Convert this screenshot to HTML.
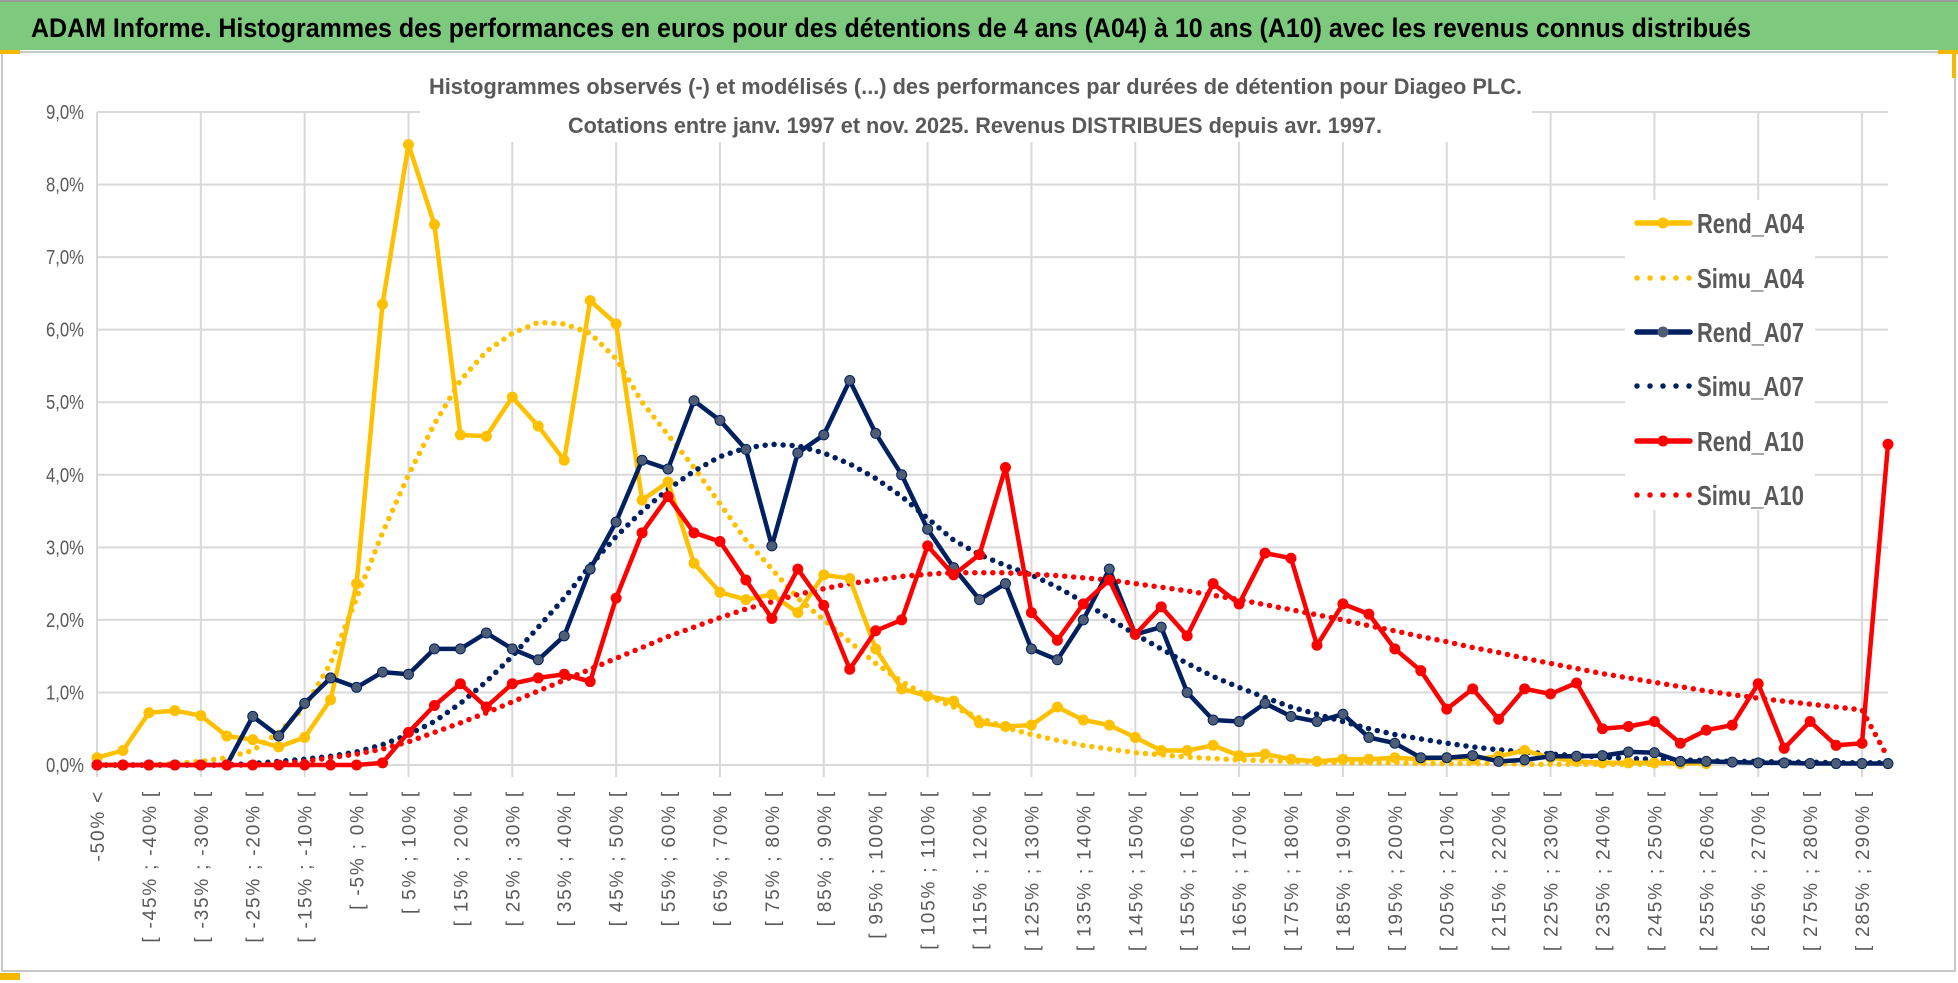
<!DOCTYPE html>
<html><head><meta charset="utf-8"><style>
html,body{margin:0;padding:0;background:#fff;}
svg{display:block;font-family:"Liberation Sans Narrow","Liberation Sans",sans-serif;}
</style></head><body>
<svg id="chart" width="1958" height="983" viewBox="0 0 1958 983" xmlns="http://www.w3.org/2000/svg">
<rect x="0" y="0" width="1958" height="983" fill="#fff"/>
<rect x="0" y="1" width="1958" height="49" fill="#7dc97d"/>
<rect x="0" y="0" width="1958" height="2" fill="#999"/>
<text x="31" y="37" font-size="27" font-weight="bold" fill="#000" textLength="1720" lengthAdjust="spacingAndGlyphs">ADAM Informe. Histogrammes des performances en euros pour des détentions de 4 ans (A04) à 10 ans (A10) avec les revenus connus distribués</text>
<rect x="2" y="52" width="1953" height="919" fill="none" stroke="#c8c8c8" stroke-width="2"/>
<rect x="0" y="50" width="20" height="4" fill="#f5b800"/>
<rect x="1938" y="50" width="20" height="4" fill="#f5b800"/>
<rect x="1952" y="50" width="4" height="28" fill="#f5b800"/>
<rect x="0" y="973" width="20" height="7" fill="#f5b800"/>
<g id="grid"></g>
<rect x="420" y="70" width="1112" height="72" fill="#fff"/>
<text x="429" y="94" font-size="22" font-weight="bold" fill="#595959" textLength="1093" lengthAdjust="spacingAndGlyphs">Histogrammes observés (-) et modélisés (...) des performances par durées de détention pour Diageo PLC.</text>
<text x="568" y="133" font-size="22" font-weight="bold" fill="#595959" textLength="814" lengthAdjust="spacingAndGlyphs">Cotations entre janv. 1997 et nov. 2025. Revenus DISTRIBUES depuis avr. 1997.</text>
<g id="yaxis"></g>
<g id="xaxis"></g>
<g id="series"></g>
<rect x="1625" y="200" width="190" height="310" fill="#fff"/>
<g id="legend"></g>
</svg>
<script>
const rendA04 = [0.1,0.2,0.72,0.75,0.68,0.4,0.35,0.25,0.38,0.9,2.5,6.35,8.55,7.45,4.55,4.53,5.07,4.67,4.2,6.4,6.08,3.65,3.9,2.78,2.38,2.28,2.35,2.1,2.62,2.57,1.6,1.05,0.95,0.88,0.58,0.53,0.55,0.8,0.62,0.55,0.38,0.2,0.2,0.27,0.13,0.15,0.08,0.05,0.08,0.08,0.1,0.08,0.1,0.08,0.12,0.2,0.1,0.05,0.03,0.03,0.03,0.02,0.02,null,null,null,null,null,null,null];
const simuA04 = [0,0,0,0.02,0.05,0.1,0.2,0.45,0.8,1.4,2.3,3.2,4.0,4.7,5.3,5.7,5.95,6.1,6.08,5.95,5.6,5.0,4.55,4.1,3.6,3.1,2.7,2.3,2.0,1.7,1.4,1.15,0.95,0.8,0.65,0.52,0.42,0.34,0.27,0.22,0.17,0.14,0.11,0.09,0.07,0.06,0.05,0.04,0.03,0.03,0.03,0.02,0.02,0.02,0.02,0.01,0.01,0.01,0.01,0.01,0.01,null,null,null,null,null,null,null,null,null];
const rendA07 = [0,0,0,0,0,0,0.67,0.4,0.85,1.2,1.07,1.28,1.25,1.6,1.6,1.82,1.6,1.45,1.78,2.7,3.35,4.2,4.08,5.02,4.75,4.35,3.02,4.3,4.55,5.3,4.57,4.0,3.25,2.72,2.28,2.5,1.6,1.45,2.0,2.7,1.8,1.9,1.0,0.62,0.6,0.85,0.67,0.6,0.7,0.38,0.3,0.1,0.1,0.13,0.05,0.07,0.12,0.12,0.13,0.18,0.17,0.05,0.05,0.04,0.03,0.03,0.02,0.02,0.02,0.02];
const simuA07 = [0,0,0,0,0,0,0.02,0.05,0.08,0.12,0.18,0.28,0.42,0.6,0.85,1.15,1.5,1.9,2.3,2.75,3.15,3.5,3.8,4.05,4.25,4.37,4.42,4.4,4.3,4.15,3.95,3.7,3.4,3.1,2.9,2.75,2.62,2.45,2.25,2.02,1.8,1.6,1.4,1.22,1.07,0.93,0.8,0.7,0.6,0.5,0.42,0.36,0.3,0.25,0.21,0.18,0.15,0.13,0.11,0.09,0.08,0.07,0.06,0.05,0.05,0.04,0.04,0.03,0.03,0.03];
const rendA10 = [0,0,0,0,0,0,0,0,0,0,0,0.03,0.45,0.82,1.12,0.8,1.12,1.2,1.25,1.15,2.3,3.2,3.7,3.2,3.08,2.55,2.02,2.7,2.2,1.32,1.85,2.0,3.02,2.62,2.9,4.1,2.1,1.72,2.22,2.55,1.8,2.18,1.78,2.5,2.22,2.92,2.85,1.65,2.22,2.08,1.6,1.3,0.77,1.05,0.63,1.05,0.98,1.13,0.5,0.53,0.6,0.3,0.48,0.55,1.12,0.23,0.6,0.27,0.3,4.42];
const simuA10 = [0,0,0,0,0,0,0,0.02,0.05,0.1,0.15,0.22,0.32,0.45,0.58,0.72,0.87,1.02,1.17,1.32,1.47,1.62,1.77,1.9,2.03,2.15,2.25,2.35,2.43,2.5,2.55,2.6,2.63,2.65,2.65,2.65,2.63,2.61,2.58,2.55,2.5,2.45,2.4,2.34,2.28,2.21,2.14,2.07,2.0,1.92,1.85,1.77,1.7,1.62,1.55,1.47,1.4,1.33,1.26,1.2,1.14,1.08,1.02,0.97,0.92,0.88,0.84,0.8,0.76,0.1];
const yTicks = [0,1,2,3,4,5,6,7,8,9];
const yTickLabels = ["0,0%","1,0%","2,0%","3,0%","4,0%","5,0%","6,0%","7,0%","8,0%","9,0%"];
const categories = ["-50% <"];
for (let k = 1; k < 70; k++) { const a = -55 + 5*k; categories.push("[ " + a + "% ; " + (a+5) + "% ["); }

const NS = "http://www.w3.org/2000/svg";
const X0 = 97, X1 = 1888, Y0 = 765, Y9 = 112;
const xs = i => X0 + (X1 - X0) * i / (categories.length - 1);
const ys = v => Y0 - (Y0 - Y9) * v / 9;
function mk(tag, attrs, parent) { const e = document.createElementNS(NS, tag); for (const k in attrs) e.setAttribute(k, attrs[k]); parent.appendChild(e); return e; }

const grid = document.getElementById('grid');
yTicks.forEach(t => {
  const l = mk('line', {x1: X0, x2: X1, y1: ys(t), y2: ys(t), stroke: '#d9d9d9', 'stroke-width': 2}, grid);
  
  
});
for (let i = 0; i < categories.length; i += 4) {
  const l = mk('line', {x1: xs(i), x2: xs(i), y1: Y9, y2: Y0 + 12, stroke: '#d9d9d9', 'stroke-width': 2}, grid);
  
  
}
const yax = document.getElementById('yaxis');
yTicks.forEach((t, i) => {
  const tx = mk('text', {x: 84, y: ys(t) + 7, 'font-size': 20, fill: '#595959', 'text-anchor': 'end', textLength: 38, lengthAdjust: 'spacingAndGlyphs'}, yax);
  tx.textContent = yTickLabels[i];
  
  
});
const xax = document.getElementById('xaxis');
categories.forEach((c, i) => {
  if (i % 2) return;
  const x = xs(i) + 7, y = 790;
  const tx = mk('text', {x: x, y: y, 'font-size': 19, fill: '#595959', 'text-anchor': 'end', 'letter-spacing': '1.8', transform: 'rotate(-90 ' + x + ' ' + y + ')', 'font-family': '"Liberation Sans",sans-serif'}, xax);
  tx.textContent = c;
  
  
});

const series = [
  {name: 'Rend_A04', data: rendA04, color: '#ffc000', dotted: false, marker: '#ffc000'},
  {name: 'Simu_A04', data: simuA04, color: '#ffc000', dotted: true},
  {name: 'Rend_A07', data: rendA07, color: '#002060', dotted: false, marker: '#4d5d75'},
  {name: 'Simu_A07', data: simuA07, color: '#002060', dotted: true},
  {name: 'Rend_A10', data: rendA10, color: '#ff0000', dotted: false, marker: '#ff0000'},
  {name: 'Simu_A10', data: simuA10, color: '#ff0000', dotted: true}
];
const sg = document.getElementById('series');
const order = [1, 3, 5, 0, 2, 4];
order.forEach(si => {
  const s = series[si];
  const g = mk('g', {}, sg);
  
  
  let d = '', started = false;
  s.data.forEach((v, i) => { if (v === null) { started = false; return; } d += (started ? 'L' : 'M') + xs(i).toFixed(1) + ' ' + ys(v).toFixed(1); started = true; });
  const p = mk('path', {d: d, fill: 'none', stroke: s.color, 'stroke-width': s.dotted ? 5.5 : 4.5, 'stroke-linecap': 'round', 'stroke-linejoin': 'round'}, g);
  if (s.dotted) p.setAttribute('stroke-dasharray', '0 9');
  
  
  if (!s.dotted) {
    s.data.forEach((v, i) => {
      if (v === null) return;
      const c = mk('circle', {cx: xs(i), cy: ys(v), r: 5, fill: s.marker, stroke: s.color, 'stroke-width': 1}, g);
      
      
    });
  }
});

const lg = document.getElementById('legend');
const legY = [223, 278, 332, 386, 441, 495];
series.forEach((s, i) => {
  const g = mk('g', {}, lg);
  
  
  const l = mk('line', {x1: 1637, x2: 1690, y1: legY[i], y2: legY[i], stroke: s.color, 'stroke-width': 5.5, 'stroke-linecap': 'round'}, g);
  if (s.dotted) l.setAttribute('stroke-dasharray', '0 13');
  
  
  if (!s.dotted) {
    const c = mk('circle', {cx: 1663, cy: legY[i], r: 5.5, fill: s.marker}, g);
    
    
  }
  const t = mk('text', {x: 1697, y: legY[i] + 10, 'font-size': 28, 'font-weight': 'bold', fill: '#595959', textLength: 107, lengthAdjust: 'spacingAndGlyphs'}, g);
  t.textContent = s.name;
  
  
});
</script>
</body></html>
